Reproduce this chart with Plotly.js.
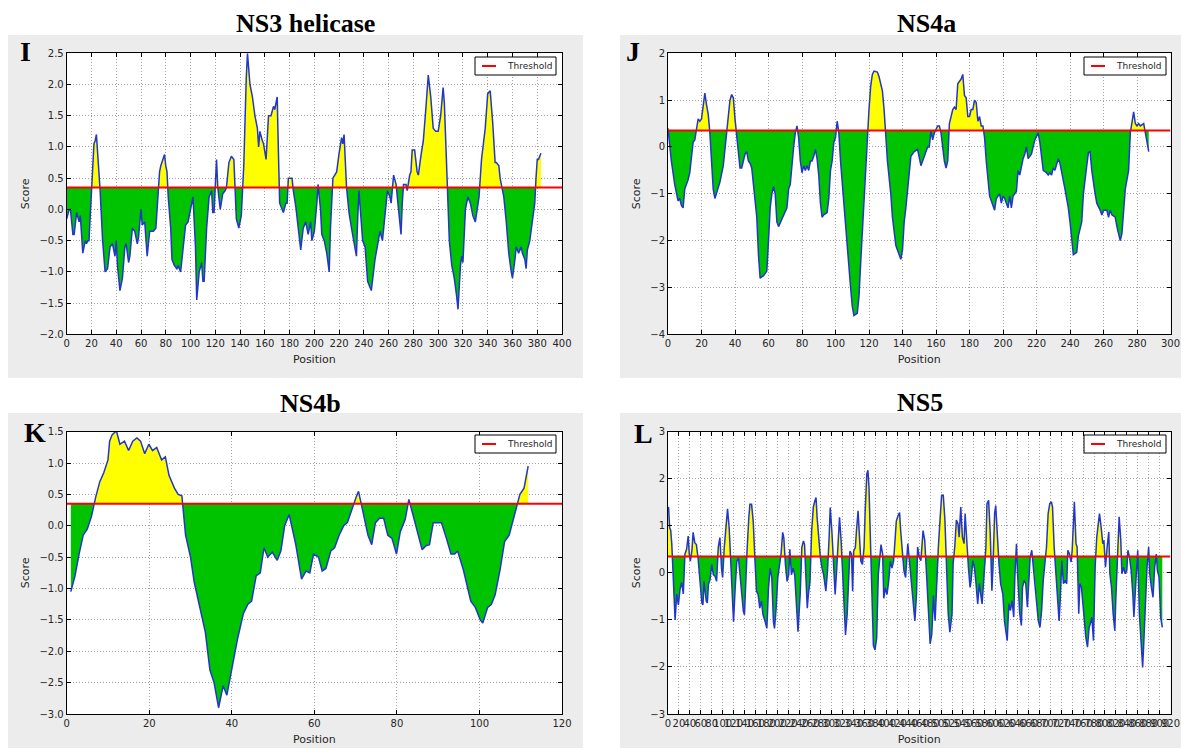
<!DOCTYPE html>
<html><head><meta charset="utf-8">
<script src="https://cdn.plot.ly/plotly-3.0.1.min.js"></script>
<style>html,body{margin:0;padding:0;background:#fff;}#chart{width:1181px;height:749px;}</style>
</head><body><div id="chart"></div>
<script>
// ---------------- data ----------------
const ns3Pos = [0,2,3,5,6,8,10,11,13,15,16,17,18,20,22,23,24,25,27,29,31,33,35,37,39,40,41,43,45,47,48,50,51,53,55,57,58,60,61,63,65,67,70,72,73,75,76,78,79,80,81,82,84,85,87,89,90,92,94,96,98,100,102,104,105,107,109,110,111,113,115,117,118,119,120,121,122,124,126,128,129,131,133,135,137,139,141,143,145,146,148,150,152,154,155,156,158,159,161,163,165,167,168,170,171,172,174,175,177,178,179,181,182,183,185,187,189,191,193,195,197,198,200,202,203,205,206,208,210,212,213,215,218,220,222,223,224,226,228,230,232,234,235,236,239,241,243,245,246,249,251,253,255,257,259,261,262,264,266,268,270,271,272,274,275,277,278,279,281,283,284,286,288,290,292,294,296,298,300,302,304,305,307,309,311,313,315,316,318,319,320,322,324,326,328,330,333,335,338,340,342,344,346,347,349,350,352,353,355,357,359,360,362,363,365,367,368,370,371,372,374,376,378,379,380,381,382,383];
const ns3Score = [-0.15,0.0,0.0,-0.4,-0.4,-0.05,-0.2,-0.1,-0.7,-0.5,-0.55,-0.5,-0.5,0.3,1.05,1.1,1.2,0.9,0.3,-0.5,-1.0,-0.95,-0.6,-0.55,-0.75,-0.5,-0.9,-1.3,-1.1,-0.6,-0.55,-0.85,-0.75,-0.3,-0.35,-0.55,-0.45,0.0,-0.25,-0.2,-0.75,-0.35,-0.35,-0.3,0.0,0.6,0.7,0.8,0.88,0.7,0.6,0.2,-0.3,-0.8,-0.9,-0.95,-0.9,-1.0,-0.6,-0.25,-0.2,0.0,0.2,-0.6,-1.45,-1.0,-0.85,-1.15,-1.15,-0.3,0.2,0.3,-0.05,-0.05,0.4,0.8,0.35,0.0,0.25,0.3,0.35,0.75,0.85,0.8,-0.15,-0.3,-0.1,0.7,2.1,2.5,2.0,1.8,1.5,1.3,1.0,1.25,1.1,1.05,0.8,1.5,1.5,1.65,1.6,1.8,0.9,0.1,0.0,-0.05,0.1,0.1,0.5,0.5,0.5,0.3,0.05,-0.3,-0.65,-0.3,-0.2,-0.4,-0.2,-0.5,-0.35,0.1,0.4,0.0,-0.4,-0.5,-0.7,-1.0,-0.3,0.5,0.6,0.9,1.15,1.05,1.2,0.35,-0.05,-0.3,-0.55,-0.75,-0.15,0.3,-0.5,-0.6,-1.15,-1.25,-1.3,-0.8,-0.6,-0.35,-0.5,-0.15,0.3,0.2,0.1,0.55,0.4,0.0,-0.4,0.1,0.4,0.4,0.3,0.55,0.6,0.95,0.95,0.6,0.55,0.85,1.1,1.6,2.15,1.8,1.3,1.25,1.25,1.5,1.95,1.7,0.5,-0.5,-0.9,-1.1,-1.4,-1.6,-0.9,-0.75,-0.85,0.0,0.2,0.1,-0.1,-0.2,0.2,0.8,1.3,1.85,1.9,1.4,0.75,0.75,0.7,0.5,0.3,0.2,-0.2,-0.7,-1.0,-1.1,-0.8,-0.6,-0.7,-0.6,-0.7,-0.8,-0.95,-0.65,-0.5,-0.2,0.1,0.5,0.8,0.8,0.85,0.9];

const ns4aPos = [0,2,4,6,7,8,9,10,12,13,15,16,18,19,20,21,22,23,24,25,26,27,28,30,31,33,35,37,38,39,40,41,42,43,44,45,46,47,48,49,50,51,53,54,55,57,58,59,60,61,62,63,64,65,66,68,70,71,72,73,75,76,77,78,79,80,81,82,83,84,85,86,87,88,89,90,91,92,93,95,96,97,98,99,100,101,102,103,105,107,109,110,111,113,114,115,116,117,118,119,120,121,122,123,125,126,128,129,130,131,133,134,136,137,139,140,141,142,143,144,145,147,149,151,153,155,156,157,158,159,161,162,163,165,166,167,168,170,171,172,173,175,176,177,178,179,180,181,182,183,184,185,186,187,188,189,190,191,192,193,195,196,197,198,199,200,201,203,204,205,206,208,209,210,212,213,214,215,216,217,219,221,222,223,224,226,227,228,229,230,231,233,234,237,239,240,242,244,245,247,248,250,251,252,253,255,256,258,259,260,262,263,264,265,267,268,270,271,272,273,275,276,278,279,280,281,282,284,285,286,287];
const ns4aScore = [0.4,-0.3,-0.8,-1.15,-1.1,-1.25,-1.3,-0.9,-0.7,-0.55,0.1,0.15,0.6,0.55,0.6,0.9,1.15,0.9,0.7,0.3,-0.3,-0.9,-1.1,-0.85,-0.75,-0.4,0.3,1.0,1.12,1.05,0.6,0.2,-0.2,-0.45,-0.45,-0.3,-0.15,-0.1,-0.3,-0.35,-0.45,-0.8,-1.5,-2.3,-2.8,-2.75,-2.7,-2.65,-2.0,-1.3,-1.0,-0.85,-1.0,-1.6,-1.7,-1.55,-1.4,-1.3,-0.9,-0.8,0.0,0.3,0.45,0.2,-0.3,-0.55,-0.4,-0.5,-0.4,-0.5,-0.3,-0.3,-0.2,-0.05,-0.25,-0.6,-1.2,-1.5,-1.45,-1.4,-1.1,-0.5,-0.3,0.1,0.2,0.55,0.3,-0.3,-1.2,-2.2,-3.0,-3.4,-3.6,-3.55,-3.2,-2.5,-1.8,-1.0,-0.3,0.3,0.8,1.3,1.55,1.62,1.6,1.5,1.2,0.8,0.3,-0.3,-1.0,-1.5,-2.1,-2.2,-2.4,-2.2,-1.6,-1.3,-0.9,-0.5,-0.2,-0.1,-0.05,-0.4,-0.2,0.0,0.0,0.35,0.15,0.3,0.45,0.45,0.3,-0.3,-0.45,-0.3,0.5,0.8,0.85,0.8,1.35,1.45,1.55,1.1,1.05,0.65,0.65,0.8,0.8,1.0,0.95,0.55,0.65,0.45,0.45,0.2,-0.3,-0.7,-1.05,-1.15,-1.35,-1.1,-1.05,-1.0,-1.2,-1.05,-1.1,-1.3,-1.05,-1.3,-1.05,-0.95,-0.5,-0.6,-0.25,-0.15,0.0,-0.25,-0.2,-0.15,0.15,0.3,0.1,-0.2,-0.5,-0.55,-0.6,-0.55,-0.6,-0.45,-0.5,-0.25,-0.35,-0.9,-1.3,-1.6,-2.3,-2.25,-1.9,-1.6,-1.0,-0.4,-0.12,-0.1,-0.5,-1.0,-1.2,-1.35,-1.45,-1.35,-1.35,-1.5,-1.35,-1.45,-1.5,-1.7,-2.0,-1.85,-1.4,-0.9,-0.5,0.3,0.75,0.5,0.45,0.5,0.45,0.5,0.3,0.1,-0.1];

const ns4bPos = [1,2,3,4,5,6,7,8,9,10,10.4,11,11.8,12.1,12.9,14,15,16,17,17.9,18.9,19.9,20.8,21.8,23,23.9,24.8,26.1,27,27.9,28.8,30,30.9,32.3,33.6,34.7,35.7,36.8,37.9,38.8,40,41.4,42.8,43.9,44.8,45.9,46.9,47.8,48.7,49.8,51,51.9,52.8,53.9,55.5,56.9,58,58.9,59.8,61,61.9,62.8,64,64.9,66,67.1,68,69.2,70.1,70.7,71.9,73,73.9,74.8,75.8,76.8,77.8,78.8,79.9,80.8,82,82.9,83.8,85,86.1,87,87.9,88.8,89.9,90.8,92,93.1,94,94.7,96.1,97.9,99,100.2,100.8,102,102.9,103.8,105,106.1,107.2,108.4,109.8,110.8,111.8];
const ns4bScore = [-1.05,-0.8,-0.45,-0.15,-0.05,0.15,0.45,0.7,0.85,1.05,1.35,1.45,1.5,1.5,1.3,1.35,1.2,1.35,1.4,1.35,1.15,1.3,1.2,1.25,1.05,1.1,0.8,0.6,0.5,0.48,-0.15,-0.5,-0.9,-1.3,-1.7,-2.3,-2.5,-2.9,-2.55,-2.7,-2.3,-1.8,-1.4,-1.25,-1.2,-0.8,-0.75,-0.35,-0.5,-0.42,-0.55,-0.4,0.0,0.18,-0.3,-0.85,-0.72,-0.75,-0.45,-0.5,-0.72,-0.68,-0.4,-0.35,-0.15,0.0,0.05,0.3,0.45,0.55,0.2,-0.15,-0.3,0.05,0.12,0.12,-0.15,-0.2,-0.45,-0.1,0.1,0.42,0.2,-0.1,-0.38,-0.32,-0.3,0.05,0.05,0.05,-0.2,-0.45,-0.45,-0.4,-0.7,-1.2,-1.3,-1.5,-1.55,-1.3,-1.25,-1.1,-0.7,-0.25,-0.15,0.15,0.5,0.6,0.95];

const ns5Pos = [0,1,3,5,7,10,13,16,19,22,25,28,31,34,37,39,41,44,46,49,52,55,59,62,64,66,70,72,74,77,80,83,86,89,92,95,98,100,103,106,109,112,115,118,120,123,126,129,132,135,138,140,143,145,148,150,153,156,159,162,165,168,171,174,178,181,184,187,190,193,195,198,201,204,207,210,212,215,218,221,223,226,229,232,235,238,242,245,248,250,252,255,257,260,263,266,269,271,273,276,279,282,285,289,292,295,297,300,303,306,309,312,314,317,319,322,325,328,330,333,336,338,340,343,345,348,350,353,356,359,361,364,366,368,371,374,376,379,382,385,388,390,393,395,398,401,404,407,410,413,416,418,421,424,426,429,432,435,439,442,445,448,452,455,457,460,463,467,470,473,477,480,483,486,489,492,495,498,501,504,507,510,513,516,520,522,525,528,531,533,536,539,542,544,547,550,553,555,558,561,564,567,570,573,575,578,582,584,587,590,593,595,598,600,603,606,609,613,616,619,621,624,627,630,633,635,638,640,644,647,649,652,655,658,660,663,666,669,671,675,678,681,684,687,690,693,696,699,702,704,707,710,713,716,718,721,724,727,730,732,735,738,740,744,747,749,752,754,757,760,762,765,768,771,773,776,779,782,785,787,790,793,796,798,801,804,807,809,812,815,818,820,823,826,829,831,834,837,840,842,845,848,851,853,856,858,860,863,866,869,871,874,877,880,882,885,888,891,894,896,899,902,905];
const ns5Score = [1.36,1.4,0.96,0.9,0.6,-0.3,-1.0,-0.45,-0.68,-0.35,-0.2,-0.45,0.4,0.5,0.78,0.4,0.25,0.5,0.86,0.64,0.6,0.32,-0.32,-0.64,-0.68,-0.18,-0.6,-0.64,-0.25,-0.14,0.18,-0.04,-0.07,-0.18,0.54,0.75,0.1,-0.1,0.54,0.96,1.36,0.96,0.18,-0.54,-1.04,-0.32,0.25,0.32,-0.1,-0.54,-0.82,-0.89,0.18,0.54,1.18,1.46,1.46,1.1,0.32,-0.39,-0.46,-0.75,-0.6,-0.89,-1.04,-1.18,-0.32,0.1,-0.1,-1.04,-1.18,-0.75,-0.1,0.18,0.4,0.86,0.75,0.18,-0.18,-0.04,0.5,-0.04,0.1,-0.04,-0.6,-1.25,-0.46,0.54,0.68,0.6,0.04,-0.75,-0.46,-0.18,0.89,1.39,1.54,1.6,1.18,0.75,0.32,0.1,-0.04,-0.39,0.04,0.75,1.39,0.89,0.18,-0.46,0.1,0.89,1.18,0.68,0.1,-0.75,-1.32,-0.89,-0.32,0.46,0.4,-0.39,0.46,0.54,0.89,1.32,0.89,0.25,0.18,0.54,1.32,2.1,2.18,1.82,0.54,-0.68,-1.54,-1.64,-1.39,-0.04,0.46,0.6,0.4,-0.54,-0.32,-0.46,-0.18,0.25,0.1,0.25,0.75,1.1,1.21,1.28,0.89,0.4,0.04,-0.1,0.62,0.26,-0.16,-0.45,-1.02,-0.45,0.55,0.33,0.26,0.9,0.69,0.05,-0.87,-1.51,-1.3,-0.48,-1.02,-0.16,0.55,1.12,1.65,1.65,1.12,0.12,-0.87,-1.26,-0.87,0.19,0.55,1.12,1.04,0.76,1.4,0.76,0.62,1.26,0.55,0.12,-0.31,-0.16,0.26,0.12,-0.23,-0.66,-0.23,-0.45,-0.66,-0.16,0.55,1.47,1.54,0.83,-0.38,0.12,1.26,1.43,0.76,0.19,-0.23,-0.45,-1.02,-1.3,-1.44,-0.66,-0.8,-0.59,-0.94,-0.09,0.62,-0.02,-0.87,-1.12,-0.31,-0.16,-0.23,-0.73,-0.23,0.33,0.48,0.12,-0.02,-0.59,-1.02,-1.16,-0.8,-0.16,0.26,0.55,1.26,1.47,1.51,1.4,0.55,-0.02,-0.66,-1.02,-0.59,0.26,-0.23,-0.16,-0.23,0.48,0.4,0.23,0.48,1.51,0.62,0.55,-0.87,-0.23,-0.31,-0.73,-1.02,-1.37,-1.58,-1.16,-1.09,-0.94,-1.44,0.12,0.76,0.97,1.26,0.97,0.62,0.69,0.12,0.55,0.87,-0.02,-0.31,-0.87,-1.23,-0.52,0.4,1.19,0.69,-0.02,0.12,-0.02,0.05,0.48,0.33,0.05,-0.45,-0.94,-0.31,0.26,0.48,-0.87,-1.51,-2.01,-1.51,-0.52,0.12,0.55,-0.02,-0.31,-0.52,0.12,0.4,0.05,-0.09,-0.94,-1.16];

const thresholdValue = 0.35;
const panelTitles = ['NS3 helicase', 'NS4a', 'NS4b', 'NS5'];
const panelLetters = ['I', 'J', 'K', 'L'];
const legendLabel = 'Threshold';
const xAxisLabel = 'Position';
const yAxisLabel = 'Score';

// ---------------- drawing ----------------
const W = 1181, H = 749;
const px = v => v / W, py = v => 1 - v / H;

const series = [
  {pos: ns3Pos, score: ns3Score},
  {pos: ns4aPos, score: ns4aScore},
  {pos: ns4bPos, score: ns4bScore},
  {pos: ns5Pos, score: ns5Score}
];

const panels = [
  {xr:[0,400], yr:[-2,2.5], dy:0.5, yfmt:'.1f', plot:[66.7,53.3,562,334.3], bg:[8,35,583,378], title:[305,23], letter:[25,52], legend:[475,57,556,75]},
  {xr:[0,300], yr:[-4,2], dy:1, yfmt:'d', plot:[668,53.3,1170.5,334.3], bg:[620,35,1181,378], title:[926,23], letter:[633,52], legend:[1084,57,1166,75]},
  {xr:[0,120], yr:[-3,1.5], dy:0.5, yfmt:'.1f', plot:[66.7,431.7,562,714], bg:[8,413,583,748], title:[310,403], letter:[35,432], legend:[475,435,556,453]},
  {xr:[0,920], yr:[-3,3], dy:1, yfmt:'d', plot:[668,431.7,1170.5,714], bg:[620,413,1181,748], title:[920,402], letter:[643,434], legend:[1084,435,1166,453]}
];

function splitAtThreshold(xs, ys, thr) {
  const up = {x: [], y: []}, lo = {x: [], y: []};
  for (let i = 0; i < xs.length; i++) {
    up.x.push(xs[i]); up.y.push(Math.max(ys[i], thr));
    lo.x.push(xs[i]); lo.y.push(Math.min(ys[i], thr));
    if (i < xs.length - 1) {
      const a = ys[i] - thr, b = ys[i + 1] - thr;
      if (a * b < 0) {
        const t = a / (a - b);
        const xc = xs[i] + t * (xs[i + 1] - xs[i]);
        up.x.push(xc); up.y.push(thr);
        lo.x.push(xc); lo.y.push(thr);
      }
    }
  }
  const n = xs.length;
  up.x.push(xs[n - 1], xs[0]); up.y.push(thr, thr);
  lo.x.push(xs[n - 1], xs[0]); lo.y.push(thr, thr);
  return {up, lo};
}

function tickList(r, step) {
  const out = [];
  for (let v = r[0]; v <= r[1] + 1e-9; v += step) out.push(Math.round(v * 1000) / 1000);
  return out;
}

const traces = [];
const layout = {
  width: W, height: H,
  margin: {l: 0, r: 0, t: 0, b: 0, pad: 0},
  paper_bgcolor: '#ffffff',
  plot_bgcolor: 'rgba(0,0,0,0)',
  showlegend: false,
  shapes: [], annotations: []
};

const tickFont = {family: 'DejaVu Sans, sans-serif', size: 10, color: '#262626'};
const titleFont = {family: 'DejaVu Sans, sans-serif', size: 11, color: '#262626'};

panels.forEach((p, k) => {
  const s = k === 0 ? '' : String(k + 1);
  const xa = 'x' + s, ya = 'y' + s;
  const d = series[k];
  const parts = splitAtThreshold(d.pos, d.score, thresholdValue);

  traces.push({x: parts.up.x, y: parts.up.y, xaxis: xa, yaxis: ya, mode: 'lines', fill: 'toself',
    fillcolor: '#ffff00', line: {width: 0, color: 'rgba(0,0,0,0)'}, showlegend: false, hoverinfo: 'skip'});
  traces.push({x: parts.lo.x, y: parts.lo.y, xaxis: xa, yaxis: ya, mode: 'lines', fill: 'toself',
    fillcolor: '#00c300', line: {width: 0, color: 'rgba(0,0,0,0)'}, showlegend: false, hoverinfo: 'skip'});
  traces.push({x: d.pos, y: d.score, xaxis: xa, yaxis: ya, mode: 'lines',
    line: {color: '#2236c8', width: 1.5}, showlegend: false, name: 'Score'});
  traces.push({x: p.xr, y: [thresholdValue, thresholdValue], xaxis: xa, yaxis: ya, mode: 'lines',
    line: {color: '#ff0000', width: 2}, name: legendLabel, showlegend: false});

  const [x0, y0, x1, y1] = p.plot;
  const common = {showline: true, linecolor: '#000', linewidth: 1, mirror: 'ticks', ticks: 'inside',
    ticklen: 4, tickcolor: '#000', showgrid: true, gridcolor: '#a3a3a3', griddash: '1px,2px', gridwidth: 1,
    zeroline: false, tickfont: tickFont, automargin: false, fixedrange: true, layer: 'above traces',
    ticklabeloverflow: 'allow'};
  layout['xaxis' + s] = Object.assign({}, common, {
    domain: [px(x0), px(x1)], range: p.xr, tickmode: 'array', tickvals: tickList(p.xr, 20),
    tickangle: 0, anchor: ya,
    title: {text: xAxisLabel, font: titleFont, standoff: 7}
  });
  layout['yaxis' + s] = Object.assign({}, common, {
    domain: [py(y1), py(y0)], range: p.yr, dtick: p.dy, tick0: 0, tickformat: p.yfmt, anchor: xa,
    title: {text: yAxisLabel, font: titleFont, standoff: 7}
  });

  // grey panel background and white plotting area
  layout.shapes.push({type: 'rect', xref: 'paper', yref: 'paper', layer: 'below',
    x0: px(p.bg[0]), x1: px(p.bg[2]), y0: py(p.bg[3]), y1: py(p.bg[1]),
    fillcolor: '#ececec', line: {width: 0}});
  layout.shapes.push({type: 'rect', xref: 'paper', yref: 'paper', layer: 'below',
    x0: px(x0), x1: px(x1), y0: py(y1), y1: py(y0), fillcolor: '#ffffff', line: {width: 0}});

  // legend box (matplotlib style)
  const [lx0, ly0, lx1, ly1] = p.legend;
  const lyc = (ly0 + ly1) / 2;
  layout.shapes.push({type: 'rect', xref: 'paper', yref: 'paper', layer: 'above',
    x0: px(lx0), x1: px(lx1), y0: py(ly1), y1: py(ly0), fillcolor: '#ffffff', line: {width: 1, color: '#000'}});
  layout.shapes.push({type: 'line', xref: 'paper', yref: 'paper', layer: 'above',
    x0: px(lx0 + 7), x1: px(lx0 + 21), y0: py(lyc), y1: py(lyc), line: {width: 2, color: '#ff0000'}});
  layout.annotations.push({text: legendLabel, xref: 'paper', yref: 'paper',
    x: px(lx0 + 30), y: py(lyc), xanchor: 'left', yanchor: 'middle', showarrow: false,
    font: {family: 'DejaVu Sans, sans-serif', size: 9, color: '#262626'}});

  layout.annotations.push({text: panelTitles[k], xref: 'paper', yref: 'paper',
    x: px(p.title[0]), y: py(p.title[1]), xanchor: 'center', yanchor: 'middle', showarrow: false,
    font: {family: 'Liberation Serif, Times New Roman, serif', size: 26, color: '#000', weight: 'bold'}});
  layout.annotations.push({text: panelLetters[k], xref: 'paper', yref: 'paper',
    x: px(p.letter[0]), y: py(p.letter[1]), xanchor: 'center', yanchor: 'middle', showarrow: false,
    font: {family: 'Liberation Serif, Times New Roman, serif', size: 28, color: '#000', weight: 'bold'}});
});

Plotly.newPlot('chart', traces, layout, {displayModeBar: false, staticPlot: true});
</script>
</body></html>
